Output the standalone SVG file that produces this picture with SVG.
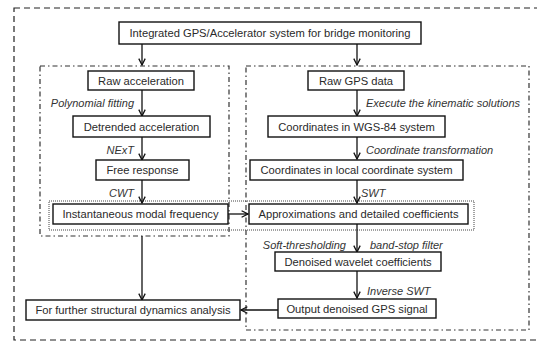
<svg xmlns="http://www.w3.org/2000/svg" width="537" height="345" viewBox="0 0 537 345">
<defs>
<marker id="ah" viewBox="0 0 10 10" refX="9" refY="5" markerWidth="8" markerHeight="8" markerUnits="userSpaceOnUse" orient="auto">
<path d="M1,1 L9,5 L1,9" fill="none" stroke="#111" stroke-width="1.6"/>
</marker>
<style>
.box{fill:#fff;stroke:#111;stroke-width:1.4}
.t{font-family:"Liberation Sans",Arial,sans-serif;font-size:11.2px;fill:#2a2a2a;text-anchor:middle}
.i{font-family:"Liberation Sans",Arial,sans-serif;font-size:11px;fill:#333;font-style:italic}
.c{fill:none;stroke:#111;stroke-width:1.3;marker-end:url(#ah)}
.dd{fill:none;stroke:#333;stroke-width:1.2;stroke-dasharray:5,3,1.5,3}
</style>
</defs>
<rect x="14" y="8" width="530" height="332" fill="none" stroke="#222" stroke-width="1.2" stroke-dasharray="6,4"/>
<rect class="dd" x="40" y="66" width="189" height="170"/>
<rect class="dd" x="246" y="66" width="283" height="264"/>
<rect x="49" y="201" width="425" height="29" fill="none" stroke="#444" stroke-width="1" stroke-dasharray="1,1"/>
<g id="connectors">
<line class="c" x1="142" y1="44" x2="142" y2="65"/>
<line class="c" x1="357" y1="44" x2="357" y2="65"/>
<line class="c" x1="142" y1="90" x2="142" y2="116"/>
<line class="c" x1="142" y1="137" x2="142" y2="160"/>
<line class="c" x1="142" y1="180" x2="142" y2="203"/>
<line class="c" x1="142" y1="236" x2="142" y2="300"/>
<line class="c" x1="357" y1="90" x2="357" y2="116"/>
<line class="c" x1="357" y1="137" x2="357" y2="159"/>
<line class="c" x1="357" y1="180" x2="357" y2="203"/>
<line class="c" x1="228" y1="214" x2="248" y2="214"/>
<line class="c" x1="357" y1="224" x2="357" y2="252"/>
<line class="c" x1="357" y1="271" x2="357" y2="298"/>
<line class="c" x1="278" y1="310" x2="241" y2="310"/>
<text class="i" x="134" y="107" text-anchor="end">Polynomial fitting</text>
<text class="i" x="134" y="154" text-anchor="end">NExT</text>
<text class="i" x="134" y="197" text-anchor="end">CWT</text>
<text class="i" x="366" y="107">Execute the kinematic solutions</text>
<text class="i" x="366" y="154">Coordinate transformation</text>
<text class="i" x="361" y="197">SWT</text>
<text class="i" x="346" y="249" text-anchor="end">Soft-thresholding</text>
<text class="i" x="370" y="249">band-stop filter</text>
<text class="i" x="367" y="295">Inverse SWT</text>
</g>
<g id="n-title"><rect class="box" x="119" y="22" width="302" height="22"/><text class="t" x="270" y="37">Integrated GPS/Accelerator system for bridge monitoring</text></g>
<g id="n-rawacc"><rect class="box" x="88" y="71" width="106" height="19"/><text class="t" x="141" y="84.5">Raw acceleration</text></g>
<g id="n-detr"><rect class="box" x="73" y="116" width="137" height="21"/><text class="t" x="141.5" y="130.5">Detrended acceleration</text></g>
<g id="n-free"><rect class="box" x="96" y="160" width="93" height="20"/><text class="t" x="142.5" y="174">Free response</text></g>
<g id="n-inst"><rect class="box" x="53" y="204" width="175" height="20"/><text class="t" x="140.5" y="218">Instantaneous modal frequency</text></g>
<g id="n-further"><rect class="box" x="26" y="300" width="214" height="20"/><text class="t" x="133" y="314">For further structural dynamics analysis</text></g>
<g id="n-rawgps"><rect class="box" x="308" y="71" width="96" height="19"/><text class="t" x="356" y="84.5">Raw GPS data</text></g>
<g id="n-wgs"><rect class="box" x="268" y="116" width="177" height="21"/><text class="t" x="356.5" y="130.5">Coordinates in WGS-84 system</text></g>
<g id="n-local"><rect class="box" x="250" y="160" width="213" height="20"/><text class="t" x="356.5" y="174">Coordinates in local coordinate system</text></g>
<g id="n-approx"><rect class="box" x="249" y="204" width="219" height="20"/><text class="t" x="358.5" y="218">Approximations and detailed coefficients</text></g>
<g id="n-denoised"><rect class="box" x="275" y="252" width="166" height="19"/><text class="t" x="358" y="265.5">Denoised wavelet coefficients</text></g>
<g id="n-output"><rect class="box" x="278" y="299" width="158" height="19"/><text class="t" x="357" y="312.5">Output denoised GPS signal</text></g>
</svg>
